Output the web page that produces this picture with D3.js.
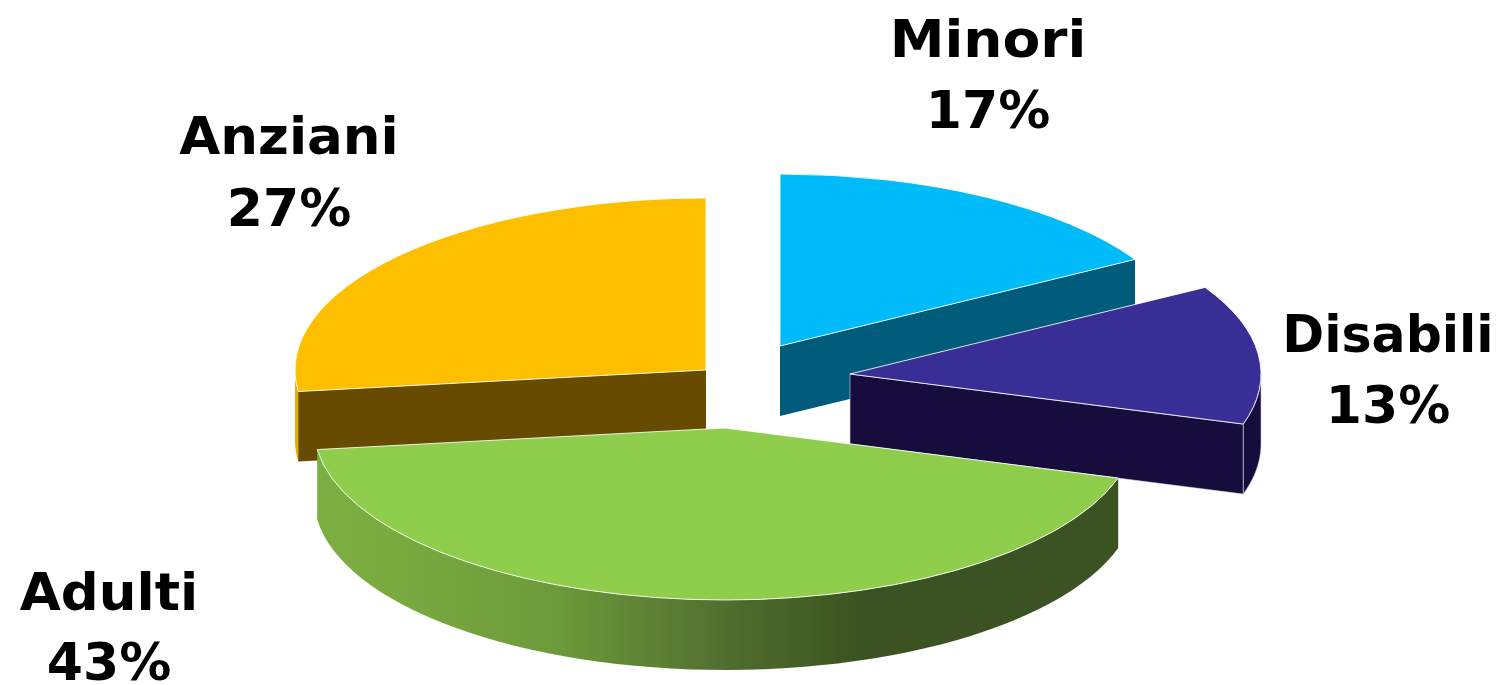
<!DOCTYPE html>
<html>
<head>
<meta charset="utf-8">
<script src="https://cdn.jsdelivr.net/npm/d3@7"></script>
<style>
  html, body { margin: 0; background: #fff; overflow: hidden; }
  svg { display: block; }
  .lbl { font-family: "DejaVu Sans", sans-serif; font-weight: 700; font-size: 51px; fill: #000; text-anchor: middle; }
</style>
</head>
<body>
<div id="chart"></div>
<script>
// data; labels show them rounded
const categories = ["Minori", "Disabili", "Adulti", "Anziani"];
const shares = [16.6, 13.1, 43.3, 27];

// layout of the exploded slices (apex of each slice, px)
const W = 1504, H = 685;
const RX = 411, RY = 172, DEPTH = 70;
const apex = {
  Minori: [780, 346], Disabili: [850, 374], Adulti: [725, 428], Anziani: [706, 370]
};
const labelPos = {
  Minori: [988, 57, 128], Disabili: [1388, 352, 423], Adulti: [109, 610, 680], Anziani: [289, 154, 226]
};
const labelStretch = { Minori: 1.08, Disabili: 0.99, Adulti: 1.04, Anziani: 1.04 };
const topColor = { Minori: "#00BBF9", Disabili: "#382D96", Adulti: "#8FCE4E", Anziani: "#FDBF00" };
const cutColor = { Minori: "#005C7A", Disabili: "#14103C", Anziani: "#664C00" };
const rimColor = { Disabili: "#14103C", Anziani: "#E3AC0A", Adulti: "url(#wallGreen)" };
const drawOrder = ["Minori", "Anziani", "Disabili", "Adulti"];

const svg = d3.select("#chart").append("svg").attr("width", W).attr("height", H);
const defs = svg.append("defs");
defs.append("filter").attr("id", "soft").attr("x", "-5%").attr("y", "-5%").attr("width", "110%").attr("height", "110%")
  .append("feGaussianBlur").attr("stdDeviation", 0.7);

const grad = defs.append("linearGradient").attr("id", "wallGreen")
  .attr("gradientUnits", "userSpaceOnUse").attr("x1", 318).attr("x2", 1118).attr("y1", 0).attr("y2", 0);
[[0, "#7CAE42"], [0.12, "#78A93F"], [0.3, "#6C9A3A"], [0.5, "#527030"], [0.68, "#3B5220"], [1, "#3B5220"]]
  .forEach(([o, c]) => grad.append("stop").attr("offset", o).attr("stop-color", c));

const root = svg.append("g").attr("filter", "url(#soft)");

const pie = d3.pie().sort(null).value((d) => d.share);
const arcs = pie(categories.map((c, i) => ({ name: c, share: shares[i] })));
const byName = new Map(arcs.map((a) => [a.data.name, a]));
const arcGen = d3.arc().innerRadius(0).outerRadius(RX);

// point on the tilted circle, angle clockwise from the top
function pt(name, a) {
  const [cx, cy] = apex[name];
  return [cx + RX * Math.sin(a), cy - RY * Math.cos(a)];
}

// outer wall between two angles, front half only
function wallPath(name, a0, a1) {
  const n = 60;
  const top = d3.range(n + 1).map((i) => pt(name, a0 + (a1 - a0) * i / n));
  const bottom = top.map((p) => [p[0], p[1] + DEPTH]).reverse();
  return d3.line()(top.concat(bottom)) + "Z";
}

function cutPath(name, a) {
  const [cx, cy] = apex[name];
  const p = pt(name, a);
  return d3.line()([[cx, cy], p, [p[0], p[1] + DEPTH], [cx, cy + DEPTH]]) + "Z";
}

drawOrder.forEach((name) => {
  const d = byName.get(name);
  const g = root.append("g").attr("class", "slice");
  const [cx, cy] = apex[name];

  // outer wall is only seen where the rim faces the viewer (90deg to 270deg)
  const from = Math.max(d.startAngle, Math.PI / 2), to = Math.min(d.endAngle, Math.PI * 1.5);
  if (to > from) {
    g.append("path").attr("d", wallPath(name, from, to)).attr("fill", rimColor[name])
      .attr("stroke", name === "Disabili" ? "#c9c9d6" : "none").attr("stroke-width", name === "Disabili" ? 0.6 : 0);
  }

  // cut faces seen from the front
  if (name === "Minori") {
    g.append("path").attr("d", cutPath(name, d.endAngle)).attr("fill", cutColor[name]);
  }
  if (name === "Disabili") {
    g.append("path").attr("d", cutPath(name, d.endAngle)).attr("fill", cutColor[name])
      .attr("stroke", "#d8d8e4").attr("stroke-width", 0.6);
  }
  if (name === "Anziani") {
    g.append("path").attr("d", cutPath(name, d.startAngle)).attr("fill", cutColor[name]);
  }

  g.append("path").attr("d", arcGen(d))
    .attr("transform", `translate(${cx},${cy}) scale(1,${RY / RX})`)
    .attr("fill", topColor[name])
    .attr("stroke", "#fff").attr("stroke-opacity", 0.85).attr("stroke-width", 1)
    .attr("vector-effect", "non-scaling-stroke");
});

// labels
categories.forEach((name, i) => {
  const [x, y0, y1] = labelPos[name];
  root.append("text").attr("class", "lbl")
    .attr("transform", `translate(${x},${y0}) scale(${labelStretch[name]},1)`).text(name);
  root.append("text").attr("class", "lbl")
    .attr("transform", `translate(${x},${y1}) scale(1.02,1)`).text(Math.round(shares[i]) + "%");
});
</script>
</body>
</html>
